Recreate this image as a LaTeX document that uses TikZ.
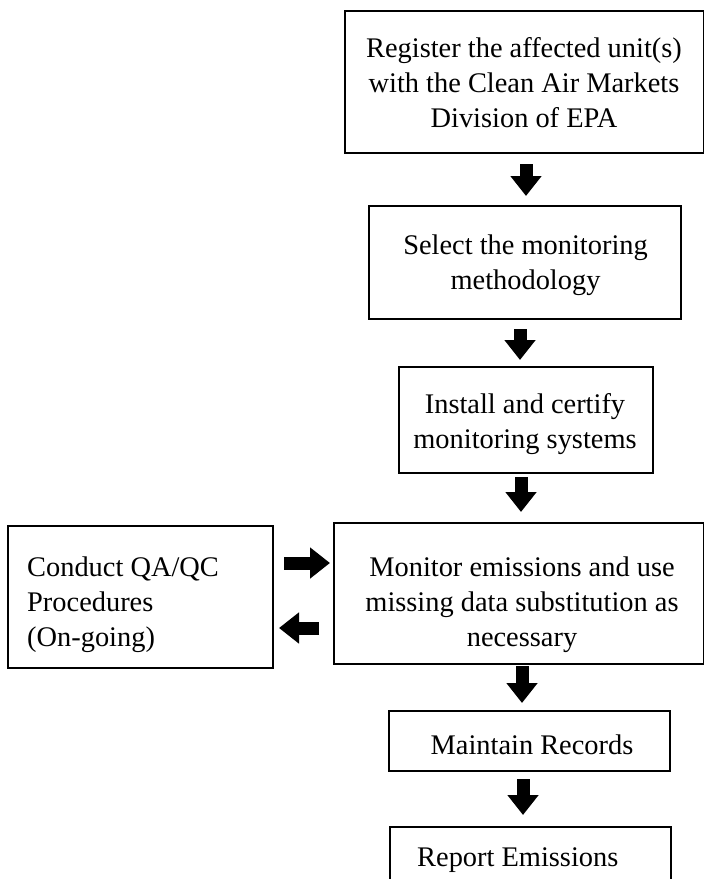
\documentclass[tikz,border=0pt]{standalone}
\usepackage{fontspec}
\setmainfont{Liberation Serif}
\usetikzlibrary{arrows.meta}
\tikzset{
  box/.style={draw, line width=2pt, rectangle, inner sep=0pt, anchor=north west},
  txt/.style={font=\fontsize{28.4pt}{35pt}\selectfont, inner sep=0pt, align=center, anchor=base},
  blk/.style={line width=13pt, -{Triangle[length=20pt,width=30pt]}},
}
\begin{document}
\begin{tikzpicture}[x=1pt,y=-1pt]
\useasboundingbox (0,0) rectangle (704,879);
\clip (0,0) rectangle (704,879);
% boxes
\node[box, minimum width=359pt, minimum height=142pt] (b1) at (344,10) {};
\node[box, minimum width=312pt, minimum height=113pt] (b2) at (368,205) {};
\node[box, minimum width=254pt, minimum height=106pt] (b3) at (398,366) {};
\node[box, minimum width=370pt, minimum height=141pt] (b4) at (333,522) {};
\node[box, minimum width=281pt, minimum height=60pt] (b5) at (388,710) {};
\node[box, minimum width=281pt, minimum height=70pt] (b6) at (389,826) {};
\node[box, minimum width=265pt, minimum height=142pt] (bq) at (7,525) {};
% texts (base anchor = baseline of the last line)
\node[txt] (t1) at (524,127) {Register the affected unit(s)\\with the Clean Air Markets\\Division of EPA};
\node[txt] (t2) at (525.5,289) {Select the monitoring\\methodology};
\node[txt] (t3) at (525,448) {Install and certify\\monitoring systems};
\node[txt] (t4) at (522,646) {Monitor emissions and use\\missing data substitution as\\necessary};
\node[txt, align=left, anchor=base west] (tq) at (27,646) {Conduct QA/QC\\Procedures\\(On-going)};
\node[txt] (t5) at (532,754) {Maintain Records};
\node[txt, anchor=base west] (t6) at (417,866) {Report Emissions};
% arrows
\draw[blk, shorten <=10pt, shorten >=9pt] ([xshift=1.5pt]b1.south) -- ([xshift=1pt]b2.north);
\draw[blk, shorten <=9pt, shorten >=6pt] ([xshift=-5pt]b2.south) -- ([xshift=-6pt]b3.north);
\draw[blk, shorten <=3pt, shorten >=10pt] ([xshift=-5pt]b3.south) -- ([xshift=2pt]b4.north);
\draw[blk, shorten <=1pt, shorten >=7pt] ([xshift=3pt]b4.south) -- ([xshift=-7.5pt]b5.north);
\draw[blk, shorten <=7pt, shorten >=11pt] ([xshift=-6.5pt]b5.south) -- ([xshift=-7.5pt]b6.north);
\draw[blk, shorten <=10pt, shorten >=3pt] ([yshift=34pt]bq.east) -- ([yshift=30.5pt]b4.west);
\draw[blk, shorten <=14pt, shorten >=5pt] ([yshift=-34.5pt]b4.west) -- ([yshift=-31pt]bq.east);
\end{tikzpicture}
\end{document}
